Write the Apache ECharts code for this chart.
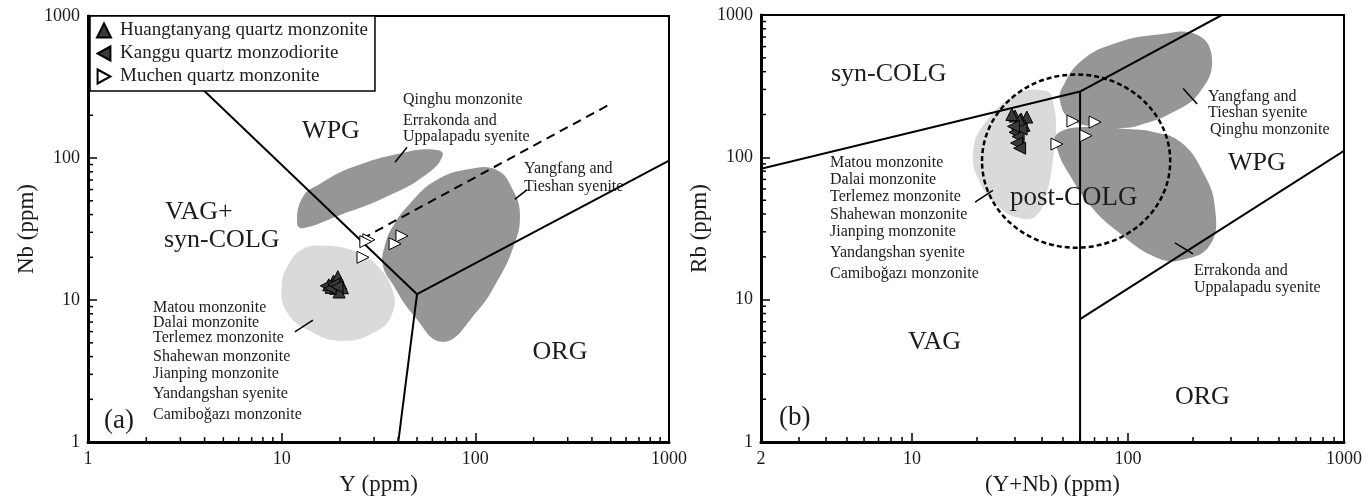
<!DOCTYPE html>
<html>
<head>
<meta charset="utf-8">
<script src="https://cdn.jsdelivr.net/npm/echarts@6/dist/echarts.min.js"></script>
<style>
html, body { margin: 0; padding: 0; background: #fff; }
#chart { width: 1368px; height: 501px; }
</style>
</head>
<body>
<div id="chart"></div>
<script>
// ---------- panel (a): Nb vs Y ----------
const huangtanyangA = [[17.5, 12.8], [18.5, 13.6], [19.5, 14.6], [20.2, 13.1], [19.0, 12.1], [18.0, 12.3], [20.6, 12.2], [19.8, 11.4]];
const kangguA = [[17.0, 12.6], [17.8, 12.1], [18.6, 12.9], [19.3, 12.4]];
const muchenA = [[28.2, 26.6], [27.2, 25.8], [26.3, 20.0], [41.8, 28.3], [38.5, 24.9]];

// fields (outline points)
const matouFieldA = [[15.8, 24.2], [23.3, 22.3], [31.0, 17.6], [37.6, 11.4], [37.1, 7.93], [31.0, 6.05], [20.7, 5.15], [14.0, 6.05], [10.6, 8.32], [10.0, 12.8], [11.0, 18.4], [12.9, 23.0]];
const qinghuFieldA = [[12.0, 34.8], [12.9, 32.1], [19.3, 38.9], [35.0, 53.5], [56.2, 77.1], [68.0, 106], [60.4, 115], [42.3, 109], [23.3, 86.3], [15.8, 65.8], [12.9, 53.5]];
const yangfangFieldA = [[93.8, 83.6], [129, 82.2], [156, 59.9], [170, 38.9], [156, 23.0], [129, 13.4], [102, 8.32], [68.0, 5.08], [47.6, 7.93], [37.6, 12.8], [33.3, 17.6], [34.1, 24.2], [37.6, 33.2], [46.0, 47.9], [63.4, 70.2]];

// boundaries: [x1, y1, x2, y2]
const boundaryA = [[1, 1800, 50, 11], [50, 11, 40, 1], [50, 11, 1000, 96]];
const dashedA = [[26, 27], [484, 235]];
const leadersA = [[38.5, 93.3, 44.4, 119], [160, 51.1, 185, 59.9], [11.7, 5.96, 14.5, 7.21]];

// ---------- panel (b): Rb vs (Y+Nb) ----------
const huangtanyangB = [[30.0, 195], [32.0, 186], [34.0, 192], [31.0, 172], [33.0, 168], [31.5, 182], [29.0, 200]];
const kangguB = [[30.0, 150], [31.0, 140], [30.5, 126], [31.5, 116], [32.0, 158], [29.5, 165]];
const muchenB = [[55.6, 180], [70.4, 177], [63.9, 142], [46.9, 124]];

const matouFieldB = [[42.2, 291], [30.6, 277], [21.3, 166], [19.2, 110], [20.2, 71], [24.8, 46.1], [31.6, 37.4], [37.9, 39.3], [42.2, 57.7], [45.0, 98], [46.4, 158], [45.0, 244]];
const yangfangFieldB = [[48.5, 248], [50.0, 316], [61.9, 486], [89.0, 638], [136, 726], [209, 726], [245, 486], [215, 287], [162, 208], [114, 169], [94.8, 161], [70.4, 164], [53.9, 186]];
const errakondaFieldB = [[46.9, 146], [66.7, 164], [98.9, 158], [131, 151], [174, 129], [222, 79.4], [253, 44], [240, 24.3], [180, 19.1], [136, 19.7], [89, 30.4], [66.7, 46.1], [53.9, 74.6], [47.4, 110]];

const boundaryB = [[2, 83, 60, 290], [60, 290, 272, 1000], [60, 1, 60, 290], [60, 7.3, 1000, 111]];
const leadersB = [[19.6, 48.4, 23.7, 58.6], [180, 305, 209, 237], [165, 25.1, 200, 21.0]];
// post-COLG circle: x extent, y extent
const circleXB = [21.1, 156.8];
const circleYB = [23.2, 382];

// minor tick values
const minorA = [2, 3, 4, 5, 6, 7, 8, 9, 20, 30, 40, 50, 60, 70, 80, 90, 200, 300, 400, 500, 600, 700, 800, 900];
const minorXB = [3, 4, 5, 6, 7, 8, 9, 20, 30, 40, 50, 60, 70, 80, 90, 200, 300, 400, 500, 600, 700, 800, 900];

const SERIF = '"Liberation Serif", "DejaVu Serif", serif';
const TXT = '#1c1c1c';
const DARK = '#969696';
const LIGHT = '#dadada';
const triLeft = 'path://M11,0 L0,6 L11,12 Z';
const triRight = 'path://M0,0 L11,6 L0,12 Z';

function fieldSeries(i, pts, color) {
  return {
    type: 'custom', xAxisIndex: i, yAxisIndex: i, silent: true, z: 1,
    data: [pts[0]],
    renderItem: function (params, api) {
      return {
        type: 'polygon',
        shape: { points: pts.map(function (p) { return api.coord(p); }), smooth: 0.45 },
        style: { fill: color }
      };
    }
  };
}

function segSeries(i, segs, width, dash) {
  return {
    type: 'custom', xAxisIndex: i, yAxisIndex: i, silent: true, z: 2, clip: true,
    data: segs,
    encode: { x: [0, 2], y: [1, 3] },
    renderItem: function (params, api) {
      const a = api.coord([api.value(0), api.value(1)]);
      const b = api.coord([api.value(2), api.value(3)]);
      return {
        type: 'line',
        shape: { x1: a[0], y1: a[1], x2: b[0], y2: b[1] },
        style: { stroke: '#000', lineWidth: width, lineDash: dash || null }
      };
    }
  };
}

function minorTicks(i, vals, dir, base, len) {
  return {
    type: 'custom', xAxisIndex: i, yAxisIndex: i, silent: true, z: 6, clip: false,
    data: vals.map(function (v) { return dir === 'x' ? [v, base] : [base, v]; }),
    renderItem: function (params, api) {
      const p = api.coord([api.value(0), api.value(1)]);
      const q = dir === 'x' ? [p[0], p[1] - len] : [p[0] + len, p[1]];
      return {
        type: 'line',
        shape: { x1: p[0], y1: p[1], x2: q[0], y2: q[1] },
        style: { stroke: '#000', lineWidth: 1.5 }
      };
    }
  };
}

function scatter(i, name, data, symbol, fill) {
  return {
    type: 'scatter', name: name, xAxisIndex: i, yAxisIndex: i, z: 4,
    data: data, symbol: symbol, symbolSize: 12,
    itemStyle: { color: fill, borderColor: '#000', borderWidth: 1, opacity: 1 }
  };
}

function logAxis(i, min, name, gap) {
  return {
    type: 'log', logBase: 10, gridIndex: i, min: min, max: 1000,
    name: name, nameLocation: 'middle', nameGap: gap,
    nameTextStyle: { fontFamily: SERIF, fontSize: 23, color: TXT },
    axisLine: { show: true, lineStyle: { color: '#000', width: 3 } },
    axisTick: { show: true, inside: true, length: 9, lineStyle: { color: '#000', width: 1.5 } },
    axisLabel: {
      fontFamily: SERIF, fontSize: 18, color: TXT, margin: 8,
      formatter: function (v) { return String(Math.round(v)); }
    },
    splitLine: { show: false },
    minorTick: { show: false }
  };
}

function label(x, y, text, size, align) {
  return {
    type: 'text', x: x, y: y, z: 20, silent: true,
    style: { text: text, fontFamily: SERIF, fontSize: size, fill: TXT, align: align || 'left', verticalAlign: 'middle' }
  };
}

const texts = [
  label(331, 131, 'WPG', 26, 'center'),
  label(165, 212, 'VAG+', 26),
  label(164, 240, 'syn-COLG', 26),
  label(560, 352, 'ORG', 26, 'center'),
  label(104, 421, '(a)', 27),
  label(403, 100, 'Qinghu monzonite', 16),
  label(403, 121, 'Errakonda and', 16),
  label(403, 137, 'Uppalapadu syenite', 16),
  label(524, 169, 'Yangfang and', 16),
  label(524, 187, 'Tieshan syenite', 16),
  label(153, 308, 'Matou monzonite', 16),
  label(153, 323, 'Dalai monzonite', 16),
  label(153, 338, 'Terlemez monzonite', 16),
  label(153, 357, 'Shahewan monzonite', 16),
  label(153, 374, 'Jianping monzonite', 16),
  label(153, 394, 'Yandangshan syenite', 16),
  label(153, 415, 'Camiboğazı monzonite', 16),

  label(831, 74, 'syn-COLG', 26),
  label(1010, 198, 'post-COLG', 27),
  label(1228, 163, 'WPG', 26),
  label(908, 342, 'VAG', 26),
  label(1175, 397, 'ORG', 26),
  label(779, 418, '(b)', 27),
  label(830, 163, 'Matou monzonite', 16),
  label(830, 180, 'Dalai monzonite', 16),
  label(830, 197, 'Terlemez monzonite', 16),
  label(830, 215, 'Shahewan monzonite', 16),
  label(830, 232, 'Jianping monzonite', 16),
  label(830, 253, 'Yandangshan syenite', 16),
  label(830, 274, 'Camiboğazı monzonite', 16),
  label(1208, 97, 'Yangfang and', 16),
  label(1208, 113, 'Tieshan syenite', 16),
  label(1210, 130, 'Qinghu monzonite', 16),
  label(1194, 271, 'Errakonda and', 16),
  label(1194, 288, 'Uppalapadu syenite', 16)
];

const chart = echarts.init(document.getElementById('chart'), null, { renderer: 'canvas' });
chart.setOption({
  animation: false,
  backgroundColor: '#fff',
  grid: [
    { left: 88, top: 16, width: 581, height: 434, show: true, borderColor: '#000', borderWidth: 2, backgroundColor: 'transparent' },
    { left: 761, top: 15, width: 583, height: 431, show: true, borderColor: '#000', borderWidth: 2, backgroundColor: 'transparent' }
  ],
  xAxis: [logAxis(0, 1, 'Y (ppm)', 28), logAxis(1, 2, '(Y+Nb) (ppm)', 29)],
  yAxis: [logAxis(0, 1, 'Nb (ppm)', 50), logAxis(1, 1, 'Rb (ppm)', 50)],
  legend: {
    left: 90, top: 16, orient: 'vertical', z: 10,
    backgroundColor: '#fff', borderColor: '#000', borderWidth: 1.5,
    padding: [5, 7, 5, 6], itemGap: 4, itemWidth: 14, itemHeight: 14,
    textStyle: { fontFamily: SERIF, fontSize: 19, color: TXT, padding: [0, 0, 0, 4] },
    data: ['Huangtanyang quartz monzonite', 'Kanggu quartz monzodiorite', 'Muchen quartz monzonite']
  },
  graphic: texts,
  series: [
    fieldSeries(0, matouFieldA, LIGHT),
    fieldSeries(0, qinghuFieldA, DARK),
    fieldSeries(0, yangfangFieldA, DARK),
    segSeries(0, boundaryA, 2),
    segSeries(0, [[dashedA[0][0], dashedA[0][1], dashedA[1][0], dashedA[1][1]]], 2, [9, 6]),
    segSeries(0, leadersA, 1.5),
    minorTicks(0, minorA, 'x', 1, 5),
    minorTicks(0, minorA, 'y', 1, 5),
    scatter(0, 'Huangtanyang quartz monzonite', huangtanyangA, 'triangle', '#3a3a3a'),
    scatter(0, 'Kanggu quartz monzodiorite', kangguA, triLeft, '#3a3a3a'),
    scatter(0, 'Muchen quartz monzonite', muchenA, triRight, '#fff'),

    fieldSeries(1, matouFieldB, LIGHT),
    fieldSeries(1, yangfangFieldB, DARK),
    fieldSeries(1, errakondaFieldB, DARK),
    segSeries(1, boundaryB, 2),
    segSeries(1, leadersB, 1.5),
    {
      type: 'custom', xAxisIndex: 1, yAxisIndex: 1, silent: true, z: 3,
      data: [[circleXB[0], circleYB[0]]],
      renderItem: function (params, api) {
        const l = api.coord([circleXB[0], circleYB[0]]);
        const r = api.coord([circleXB[1], circleYB[1]]);
        return {
          type: 'ellipse',
          shape: { cx: (l[0] + r[0]) / 2, cy: (l[1] + r[1]) / 2, rx: Math.abs(r[0] - l[0]) / 2, ry: Math.abs(l[1] - r[1]) / 2 },
          style: { fill: null, stroke: '#000', lineWidth: 2.5, lineDash: [5, 3] }
        };
      }
    },
    minorTicks(1, minorXB, 'x', 1, 5),
    minorTicks(1, minorA, 'y', 2, 5),
    scatter(1, 'Huangtanyang quartz monzonite', huangtanyangB, 'triangle', '#3a3a3a'),
    scatter(1, 'Kanggu quartz monzodiorite', kangguB, triLeft, '#3a3a3a'),
    scatter(1, 'Muchen quartz monzonite', muchenB, triRight, '#fff')
  ]
});
</script>
</body>
</html>
